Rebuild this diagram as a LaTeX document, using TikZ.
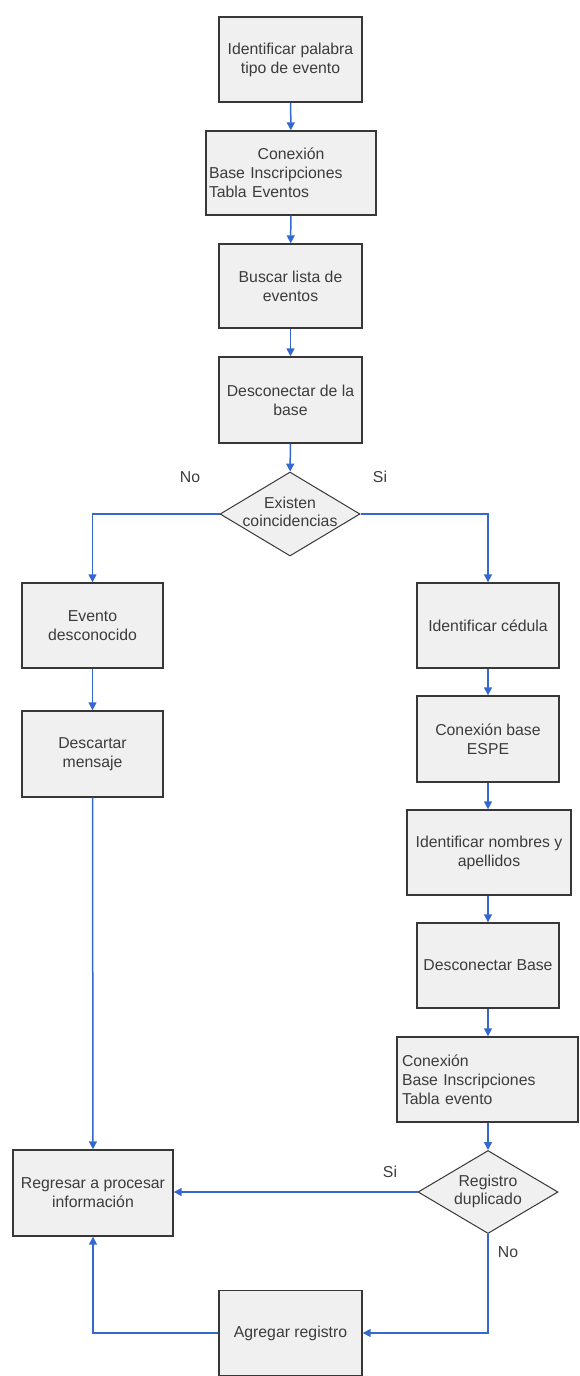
\documentclass[tikz,border=0pt]{standalone}
\usepackage{fontspec}
\setmainfont{Liberation Sans}
\usetikzlibrary{shapes.geometric, arrows.meta}
\definecolor{azul}{RGB}{52,104,206}
\definecolor{relleno}{RGB}{240,240,240}
\definecolor{borde}{RGB}{55,55,55}
\definecolor{letra}{RGB}{60,60,60}
\begin{document}
\begin{tikzpicture}[x=1pt, y=-1pt,
	caja/.style={draw=borde, fill=relleno, line width=1.4pt, minimum width=143pt, minimum height=85pt, align=center, text=letra, font=\fontsize{15.8}{19}\selectfont},
	decision/.style={diamond, draw=borde, fill=relleno, line width=1pt, minimum width=140pt, minimum height=84pt, inner sep=0pt, text=letra, font=\fontsize{15.8}{18}\selectfont},
	etiqueta/.style={text=letra, font=\fontsize{15.8}{18}\selectfont},
	flecha/.style={draw=azul, line width=1.5pt, -{Triangle[length=8pt, width=8pt]}}]
	\useasboundingbox (0,0) rectangle (580,1376);
	\node[caja] (palabra) at (290.5,59.5) {Identificar palabra\\tipo de evento};
	\node[caja, minimum width=170pt, minimum height=84pt, inner xsep=3pt, text width=164pt, align=left] (conexion) at (291,173) {\makebox[\linewidth][c]{Conexión}\\Base Inscripciones\\Tabla Eventos};
	\node[caja, minimum height=84pt] (buscar) at (290.5,286) {Buscar lista de\\eventos};
	\node[caja, minimum height=86pt] (desconectar) at (290.5,400) {Desconectar de la\\base};
	\node[decision] (existen) at (290,514) {\makebox[0pt]{\begin{tabular}{@{}c@{}}Existen\\coincidencias\end{tabular}}};
	\node[caja, minimum width=141pt] (desconocido) at (92.5,625.5) {Evento\\desconocido};
	\node[caja, minimum width=141pt, minimum height=86pt] (descartar) at (92.5,754) {Descartar\\mensaje};
	\node[caja, minimum width=142pt] (cedula) at (488,625.5) {Identificar cédula};
	\node[caja, minimum width=142pt, minimum height=86pt] (espe) at (488,739) {Conexión base\\ESPE};
	\node[caja, minimum width=164pt] (nombres) at (489,852.5) {Identificar nombres y\\apellidos};
	\node[caja, minimum width=142pt] (descbase) at (488,965.5) {Desconectar Base};
	\node[caja, minimum width=181pt, inner xsep=5pt, text width=171pt, align=left] (conexevento) at (487.5,1079.5) {Conexión\\Base Inscripciones\\Tabla evento};
	\node[decision, minimum height=83pt] (duplicado) at (488,1192) {\makebox[0pt]{\begin{tabular}{@{}c@{}}Registro\\duplicado\end{tabular}}};
	\node[caja, minimum width=160pt, minimum height=86pt] (regresar) at (93,1193) {Regresar a procesar\\información};
	\node[caja] (agregar) at (290.5,1333) {Agregar registro};
	\node[etiqueta] (no1) at (190,477) {No};
	\node[etiqueta] (si1) at (380,477) {Si};
	\node[etiqueta] (si2) at (390,1172) {Si};
	\node[etiqueta] (no2) at (508,1252) {No};
	\draw[flecha] (palabra) -- (conexion);
	\draw[flecha] (conexion) -- (buscar);
	\draw[flecha] (buscar) -- (desconectar);
	\draw[flecha] (desconectar) -- (existen);
	\draw[flecha] (existen.west) -| (desconocido.north);
	\draw[flecha] (existen.east) -| (cedula.north);
	\draw[flecha] (desconocido) -- (descartar);
	\draw[flecha] (descartar) -- (regresar);
	\draw[flecha] (cedula) -- (espe);
	\draw[flecha] (espe.south) -- (espe.south |- nombres.north);
	\draw[flecha] (nombres.south -| descbase.north) -- (descbase.north);
	\draw[flecha] (descbase) -- (descbase.south |- conexevento.north);
	\draw[flecha] (conexevento.south -| duplicado.north) -- (duplicado.north);
	\draw[flecha] (duplicado.west) -- (duplicado.west -| regresar.east);
	\draw[flecha] (duplicado.south) |- (agregar.east);
	\draw[flecha] (agregar.west) -| (regresar.south);
\end{tikzpicture}
\end{document}
